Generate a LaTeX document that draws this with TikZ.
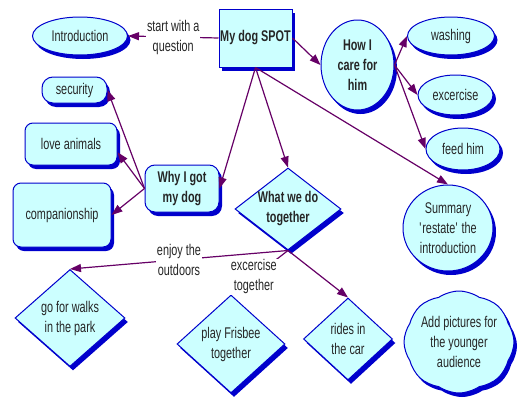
\documentclass[tikz,border=0pt]{standalone}
\usepackage{fontspec}
\setmainfont{Liberation Sans}[FakeStretch=0.7]
\usepackage{tikz}
\usetikzlibrary{shapes.geometric,shapes.symbols,shadows,arrows.meta}
\definecolor{linkpurple}{RGB}{102,0,102}
\definecolor{boxblue}{RGB}{0,0,204}
\definecolor{boxfill}{RGB}{204,255,255}

\begin{document}
\begin{tikzpicture}[x=1pt, y=-1pt, font=\fontsize{15.5}{20}\selectfont,
        idea/.style={draw=boxblue, line width=1pt, fill=boxfill, text=black!85, align=center, inner sep=0pt,
            drop shadow={shadow xshift=3pt, shadow yshift=-4pt, fill=boxblue, opacity=1}},
        heavy/.style={font=\fontsize{15.5}{20}\selectfont\bfseries},
        oval/.style={idea, ellipse},
        rbox/.style={idea, rectangle, rounded corners=8pt},
        gem/.style={idea, diamond},
        link/.style={draw=linkpurple, line width=1.2pt, -{Triangle[length=11pt,width=8pt]}},
        bareline/.style={draw=linkpurple, line width=1.2pt},
        phrase/.style={fill=white, align=center, inner sep=1pt, text=black!85}]
                \useasboundingbox (0,0) rectangle (520,399);

                % top row
                \node (intro) [oval, minimum width=95pt, minimum height=38pt] at (80,36) {Introduction};
                \node (mydog) [idea, heavy, minimum width=73pt, minimum height=58pt] at (255.5,38) {My dog SPOT};
                \node (care) [oval, heavy, minimum width=73pt, minimum height=90pt] at (357.5,65) {How I\\care for\\him};
                \node (wash) [oval, minimum width=87pt, minimum height=38pt] at (451,36) {washing};
                \node (exer) [oval, minimum width=75pt, minimum height=40pt] at (455.5,95) {excercise};
                \node (feed) [oval, minimum width=74pt, minimum height=42pt] at (463,149) {feed him};
                \node (summary) [oval, minimum width=90pt, minimum height=86pt] at (448,228)
                    {Summary\\\textquotesingle restate\textquotesingle{} the\\introduction};

                % left side
                \node (why) [rbox, heavy, rounded corners=10pt, minimum width=74pt, minimum height=47pt] at (182,188.5) {Why I got\\my dog};
                \node (secur) [rbox, rounded corners=11pt, minimum width=65pt, minimum height=26pt] at (74.5,90) {security};
                \node (love) [rbox, minimum width=92pt, minimum height=42pt] at (71,144) {love animals};
                \node (compan) [rbox, minimum width=98pt, minimum height=64pt] at (62,215) {companionship};

                % diamonds
                \node (what) [gem, heavy, aspect=1.3, minimum width=106pt, minimum height=82pt] at (288,209) {What we do\\together};
                \node (walks) [gem, minimum width=110pt, minimum height=97pt] at (70,318) {go for walks\\in the park};
                \node (frisbee) [gem, minimum width=108pt, minimum height=98pt] at (231,344) {play Frisbee\\together};
                \node (rides) [gem, minimum width=89pt, minimum height=82pt] at (348,339) {rides in\\the car};
                \node (addpic) [idea, cloud, cloud puffs=8, cloud puff arc=70, cloud ignores aspect,
                    minimum width=110pt, minimum height=102pt] at (459,342) {Add pictures for\\the younger\\audience};

                \draw [link] (mydog.west) -- node [phrase] {start with a\\question} (intro.east);
                \draw [link] (mydog.east) -- (care.west);
                \draw [link] (care.east) -- (wash.west);
                \draw [link] (care.east) -- (exer.west);
                \draw [link] (care.east) -- (feed.west);
                \draw [link] (mydog.south) -- (summary.north);
                \draw [link] (mydog.south) -- (why.east);
                \draw [link] (mydog.south) -- (what.north);

                \draw [link] (why.west) -- (secur.east);
                \draw [link] (why.west) -- (love.-10);
                \draw [link] (why.west) -- (compan.east);

                \draw [link] (what.south) -- node [phrase] {enjoy the\\outdoors} (walks.north);
                \draw [bareline] (what.south) -- node [phrase, pos=0.6] {excercise\\together} (frisbee.north);
                \draw [link] (what.south) -- (rides.north);
\end{tikzpicture}
\end{document}
